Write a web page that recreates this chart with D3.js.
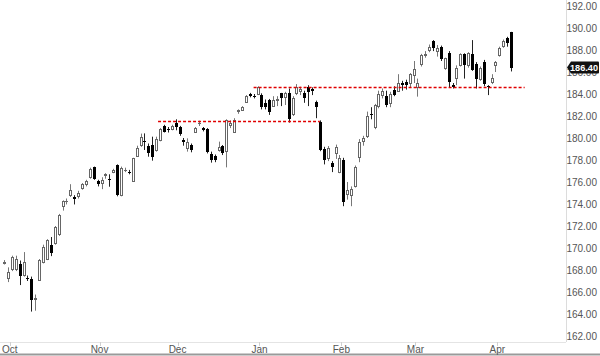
<!DOCTYPE html>
<html><head><meta charset="utf-8">
<script src="https://cdn.jsdelivr.net/npm/d3@7"></script>
<style>
html,body{margin:0;padding:0;background:#fff;}
svg{display:block;font-family:"Liberation Sans",Arial,sans-serif;}
</style></head>
<body>
<svg id="chart" width="600" height="356"></svg>
<script>
const dates = ["2013-09-27","2013-09-30","2013-10-01","2013-10-02","2013-10-03","2013-10-04","2013-10-07","2013-10-08","2013-10-09","2013-10-10",
"2013-10-11","2013-10-14","2013-10-15","2013-10-16","2013-10-17","2013-10-18","2013-10-21","2013-10-22","2013-10-23","2013-10-24",
"2013-10-25","2013-10-28","2013-10-29","2013-10-30","2013-10-31","2013-11-01","2013-11-04","2013-11-05","2013-11-06","2013-11-07",
"2013-11-08","2013-11-11","2013-11-12","2013-11-13","2013-11-14","2013-11-15","2013-11-18","2013-11-19","2013-11-20","2013-11-21",
"2013-11-22","2013-11-25","2013-11-26","2013-11-27","2013-11-29","2013-12-02","2013-12-03","2013-12-04","2013-12-05","2013-12-06",
"2013-12-09","2013-12-10","2013-12-11","2013-12-12","2013-12-13","2013-12-16","2013-12-17","2013-12-18","2013-12-19","2013-12-20",
"2013-12-23","2013-12-24","2013-12-26","2013-12-27","2013-12-30","2013-12-31","2014-01-02","2014-01-03","2014-01-06","2014-01-07",
"2014-01-08","2014-01-09","2014-01-10","2014-01-13","2014-01-14","2014-01-15","2014-01-16","2014-01-17","2014-01-21","2014-01-22",
"2014-01-23","2014-01-24","2014-01-27","2014-01-28","2014-01-29","2014-01-30","2014-01-31","2014-02-03","2014-02-04","2014-02-05",
"2014-02-06","2014-02-07","2014-02-10","2014-02-11","2014-02-12","2014-02-13","2014-02-14","2014-02-18","2014-02-19","2014-02-20",
"2014-02-21","2014-02-24","2014-02-25","2014-02-26","2014-02-27","2014-02-28","2014-03-03","2014-03-04","2014-03-05","2014-03-06",
"2014-03-07","2014-03-10","2014-03-11","2014-03-12","2014-03-13","2014-03-14","2014-03-17","2014-03-18","2014-03-19","2014-03-20",
"2014-03-21","2014-03-24","2014-03-25","2014-03-26","2014-03-27","2014-03-28","2014-03-31","2014-04-01","2014-04-02","2014-04-03",
"2014-04-04"];

const open = [168.65,167.25,168.05,168.1,168.55,167.53,167.25,167.16,165.4,167.1,
168.7,169.0,170.3,170.5,171.24,173.8,174.25,174.83,174.67,174.73,
175.45,175.8,176.44,177.36,176.06,175.88,176.67,176.25,176.9,177.5,
174.83,177.1,176.95,176.06,178.4,179.36,179.7,179.3,179.36,178.91,
179.82,181.09,180.8,180.79,181.35,181.03,179.82,179.06,179.36,180.58,
181.35,180.88,180.79,178.55,178.36,178.91,179.27,178.85,181.18,180.58,
182.45,182.55,183.3,184.0,183.85,184.0,183.91,183.15,183.45,182.95,
183.45,184.06,183.7,184.1,182.15,184.06,184.3,184.1,184.6,184.5,
183.3,181.5,179.0,178.15,177.7,178.6,176.94,178.0,174.9,174.8,
175.6,178.3,179.7,180.2,182.2,181.0,182.9,183.95,183.8,183.15,
184.4,184.3,185.0,185.05,184.97,185.7,184.67,186.7,187.55,188.0,
188.82,187.9,188.3,186.33,187.7,184.8,185.5,186.6,187.6,186.6,
187.6,186.7,185.4,186.9,184.7,185.06,186.6,187.55,188.4,189.1,
189.6];

const high = [168.9,168.24,169.3,169.3,168.86,169.63,167.5,167.4,165.77,169.0,
170.3,170.8,171.0,172.0,173.1,174.33,174.5,175.8,174.8,175.2,
175.9,176.2,177.3,177.4,176.2,176.43,176.8,176.7,177.2,177.6,
177.4,177.3,177.1,178.2,179.3,180.4,180.42,179.5,180.12,180.12,
180.9,181.2,181.0,181.2,181.7,181.1,180.0,179.97,179.5,181.0,
181.57,181.0,180.9,178.76,178.5,179.67,179.36,181.7,181.6,181.8,
182.6,182.9,183.9,184.1,184.0,184.7,184.06,183.5,183.55,183.8,
183.8,184.1,184.2,184.5,183.8,184.9,184.66,184.3,184.8,184.6,
183.4,181.6,179.2,179.27,177.9,179.4,178.45,178.2,176.0,175.6,
177.5,179.9,180.2,182.4,182.8,183.1,184.3,184.5,184.3,184.2,
184.7,185.8,185.2,185.3,185.9,187.0,185.4,187.65,187.9,188.5,
188.9,188.45,188.4,187.3,187.9,185.0,186.6,187.7,187.7,187.8,
188.9,186.9,186.5,187.1,184.8,185.8,187.0,188.3,188.95,189.2,
189.65];

const low = [168.5,166.9,167.9,167.9,166.63,167.4,167.0,164.22,164.3,167.0,
168.6,168.9,169.26,170.3,171.1,173.4,173.96,174.64,173.96,174.5,
175.3,175.6,176.3,176.2,175.6,175.35,176.3,175.57,176.8,174.7,
174.7,176.9,176.7,176.0,178.3,179.2,178.91,178.3,177.94,178.76,
179.7,180.5,180.5,180.7,180.7,180.2,179.3,178.76,178.7,180.5,
181.09,180.6,178.6,177.76,177.8,178.76,178.45,177.33,180.9,180.5,
182.2,182.5,183.2,183.7,183.6,183.9,182.6,182.6,182.1,182.9,
182.9,182.9,183.0,181.4,182.0,183.9,183.9,183.2,182.9,183.9,
181.8,178.8,177.6,177.9,176.9,178.1,176.8,173.8,174.4,173.8,
175.5,177.8,179.3,180.0,181.7,180.8,182.7,183.6,182.8,182.8,
183.8,184.2,184.3,184.4,184.6,185.0,183.76,186.5,187.3,187.8,
187.9,187.4,187.0,186.2,184.6,184.5,184.8,186.5,185.4,186.4,
186.1,184.5,185.2,184.7,183.9,184.9,186.0,187.4,188.2,188.3,
186.05];

const close = [168.75,167.84,169.17,169.0,167.47,168.77,167.15,165.3,165.5,168.95,
170.1,170.7,169.57,171.95,173.03,174.27,174.3,175.26,174.49,175.04,
175.8,176.1,177.2,176.28,175.8,176.19,176.7,176.2,177.12,174.8,
177.3,177.12,176.9,178.14,179.1,180.06,179.65,178.6,178.24,179.88,
180.79,180.58,180.75,181.09,181.0,180.36,179.67,179.67,178.91,180.94,
181.4,180.73,178.76,178.0,178.0,179.21,178.6,181.64,181.4,181.64,
182.5,182.85,183.82,183.82,183.8,184.6,182.85,182.85,182.4,183.5,
183.52,183.67,184.1,181.7,183.67,184.6,184.42,183.6,184.18,184.3,
182.8,178.9,178.0,179.06,177.35,179.2,178.15,174.2,175.3,175.4,
177.4,179.67,180.0,182.0,182.07,183.0,184.0,184.25,183.0,184.0,
183.9,185.0,184.85,184.85,185.8,186.3,184.97,187.55,187.65,188.3,
188.21,188.15,187.15,187.24,185.1,184.6,186.33,187.6,186.6,187.7,
186.2,185.4,186.33,184.9,184.6,185.5,186.9,188.15,188.8,188.6,
186.4];

const yTicks = [192,190,188,186,184,182,180,178,176,174,172,170,168,166,164,162];
const monthNames = ["Jan","Feb","Mar","Apr","May","Jun","Jul","Aug","Sep","Oct","Nov","Dec"];
// horizontal dashed levels: price and start/end bar index
const levelPrice = [181.52, 184.6];
const levelFrom = [39.5, 64];
const levelTo = [81, 133.5];
const lastPrice = 186.40;

const svg = d3.select("#chart");
const W = 600, H = 356;
const plotRight = 566, plotBottom = 342;

const x = d3.scaleLinear().domain([0, dates.length - 1]).range([4, 511]);
const y = d3.scaleLinear().domain([162, 192]).range([336, 6]);

const bars = dates.map((d, i) => ({i, date: new Date(d + "T00:00:00"), o: open[i], h: high[i], l: low[i], c: close[i]}));

// frame
svg.append("line").attr("x1", plotRight + 0.5).attr("x2", plotRight + 0.5).attr("y1", 0).attr("y2", plotBottom)
  .attr("stroke", "#dcdcdc").attr("stroke-width", 1);
svg.append("line").attr("x1", 0).attr("x2", plotRight).attr("y1", plotBottom + 0.5).attr("y2", plotBottom + 0.5)
  .attr("stroke", "#e4e4e4").attr("stroke-width", 1);
svg.append("line").attr("x1", 0).attr("x2", W).attr("y1", H - 1.5).attr("y2", H - 1.5)
  .attr("stroke", "#9a9a9a").attr("stroke-width", 2);

// y axis labels
svg.append("g").selectAll("text").data(yTicks).join("text")
  .attr("x", 597).attr("y", d => y(d)).attr("dy", "0.35em")
  .attr("text-anchor", "end").attr("font-size", 10).attr("fill", "#555")
  .text(d => d.toFixed(2));

// month ticks
const monthStarts = bars.filter((b, k) => k > 0 && b.date.getMonth() !== bars[k - 1].date.getMonth());
const mx = b => x(b.i - 0.5);
svg.append("g").selectAll("line").data(monthStarts).join("line")
  .attr("x1", b => Math.round(mx(b)) + 0.5).attr("x2", b => Math.round(mx(b)) + 0.5)
  .attr("y1", plotBottom).attr("y2", plotBottom + 4).attr("stroke", "#d0d0d0");
svg.append("g").selectAll("text").data(monthStarts).join("text")
  .attr("x", b => mx(b)).attr("y", 352.5).attr("text-anchor", "middle")
  .attr("font-size", 10).attr("fill", "#555")
  .text(b => monthNames[b.date.getMonth()]);

// candles
const g = svg.append("g");
const cx = b => Math.round(x(b.i));
g.selectAll("line.wick").data(bars).join("line").attr("class", "wick")
  .attr("x1", b => cx(b) + 0.5).attr("x2", b => cx(b) + 0.5)
  .attr("y1", b => y(b.h)).attr("y2", b => y(b.l))
  .attr("stroke", b => b.c >= b.o ? "#777" : "#222").attr("stroke-width", 1);
g.selectAll("rect.body").data(bars).join("rect").attr("class", "body")
  .each(function(b) {
    const top = Math.round(y(Math.max(b.o, b.c)));
    const bot = Math.round(y(Math.min(b.o, b.c)));
    const r = d3.select(this);
    if (b.c >= b.o) {
      r.attr("x", cx(b) - 0.5).attr("width", 2)
       .attr("y", top + 0.5).attr("height", Math.max(bot - top, 0.01))
       .attr("fill", "#fff").attr("stroke", "#666").attr("stroke-width", 1);
    } else {
      r.attr("x", cx(b) - 1).attr("width", 3)
       .attr("y", top).attr("height", Math.max(bot - top, 1))
       .attr("fill", "#000");
    }
  });

// dashed levels
svg.append("g").selectAll("line").data(levelPrice).join("line")
  .attr("x1", (p, k) => x(levelFrom[k])).attr("x2", (p, k) => x(levelTo[k]))
  .attr("y1", p => Math.round(y(p)) + 0.5).attr("y2", p => Math.round(y(p)) + 0.5)
  .attr("stroke", "#e00000").attr("stroke-width", 1.5).attr("stroke-dasharray", "3,2");

// last price tag
const ty = y(lastPrice);
const tag = svg.append("g");
tag.append("path")
  .attr("d", `M${plotRight + 1},${ty} L${plotRight + 5},${ty - 6} L${W - 2},${ty - 6} Q${W - 1},${ty - 6} ${W - 1},${ty - 5} L${W - 1},${ty + 5} Q${W - 1},${ty + 6} ${W - 2},${ty + 6} L${plotRight + 5},${ty + 6} Z`)
  .attr("fill", "#111");
tag.append("text").attr("x", 598).attr("y", ty).attr("dy", "0.35em")
  .attr("text-anchor", "end").attr("font-size", 9.5).attr("font-weight", "bold").attr("fill", "#fff")
  .attr("textLength", 28).attr("lengthAdjust", "spacingAndGlyphs")
  .text(lastPrice.toFixed(2));
</script>
</body></html>
